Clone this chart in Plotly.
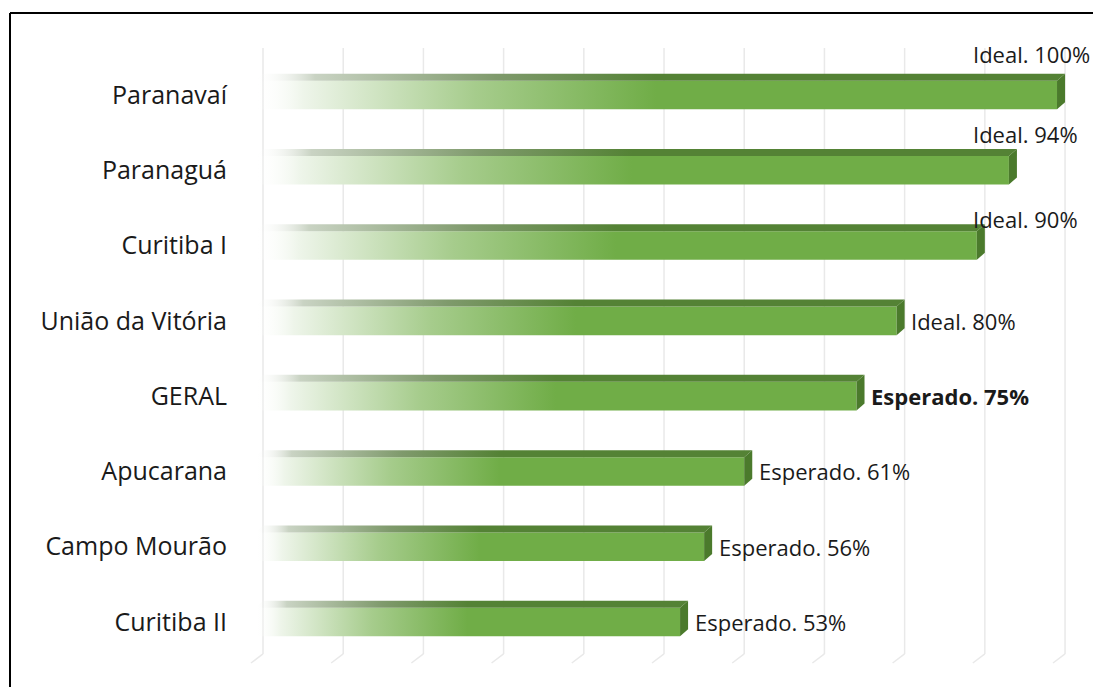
import plotly.graph_objects as go

# ---------------- data ----------------
categories = ["Paranavaí", "Paranaguá", "Curitiba I", "União da Vitória",
              "GERAL", "Apucarana", "Campo Mourão", "Curitiba II"]
values = [100, 94, 90, 80, 75, 61, 56, 53]
label_kinds = ["Ideal", "Ideal", "Ideal", "Ideal",
               "Esperado", "Esperado", "Esperado", "Esperado"]
grid_ticks = [0, 10, 20, 30, 40, 50, 60, 70, 80, 90, 100]

# ---------------- style ----------------
FONT = "Open Sans"
GREEN = "#70AD47"
TOP_GREEN = "#548235"
SIDE_GREEN = "#4B7A2C"
H = 0.19      # half height of front face (y units)
DX = 1.0      # depth offset in x (data units)
DY = 0.093    # depth offset in y
# label placement for the first three (placed above the bar end)
above_offsets = [0.538, 0.478, 0.359]
above_x = 88.3

n = len(categories)
ypos = [n - 1 - i for i in range(n)]

fig = go.Figure()

for v, c in zip(values, ypos):
    x0 = -DX
    x1 = v - DX
    # front face with gradient
    fig.add_trace(go.Scatter(
        x=[x0, x1, x1, x0, x0],
        y=[c - H, c - H, c + H, c + H, c - H],
        mode="lines", line=dict(width=0), fill="toself",
        fillgradient=dict(type="horizontal", start=x0, stop=x0 + 0.5 * v,
                          colorscale=[[0, "rgba(255,255,255,0)"],
                                      [0.12, "#eef5ea"],
                                      [0.55, "#a6cc8c"],
                                      [1, GREEN]]),
        hoverinfo="skip", showlegend=False))
    # top face
    fig.add_trace(go.Scatter(
        x=[x0, x1, v, 0, x0],
        y=[c + H, c + H, c + H + DY, c + H + DY, c + H],
        mode="lines", line=dict(width=0), fill="toself",
        fillgradient=dict(type="horizontal", start=x0, stop=x0 + 0.5 * v,
                          colorscale=[[0, "rgba(255,255,255,0)"],
                                      [0.15, "#c9d3c3"],
                                      [0.6, "#7f9a6c"],
                                      [1, TOP_GREEN]]),
        hoverinfo="skip", showlegend=False))
    # side face
    fig.add_trace(go.Scatter(
        x=[x1, v, v, x1, x1],
        y=[c - H, c - H + DY, c + H + DY, c + H, c - H],
        mode="lines", line=dict(width=0), fill="toself",
        fillcolor=SIDE_GREEN,
        hoverinfo="skip", showlegend=False))

# grid lines (vertical with floor diagonal)
Y_TOP = 7.624
Y_BOT = -0.424
Y_FLOOR = -0.544
shapes = []
for t in grid_ticks:
    shapes.append(dict(type="line", xref="x", yref="y", x0=t, x1=t,
                       y0=Y_BOT, y1=Y_TOP, layer="below",
                       line=dict(color="#E9E9E9", width=1.5)))
    shapes.append(dict(type="line", xref="x", yref="y", x0=t, x1=t - 1.5,
                       y0=Y_BOT, y1=Y_FLOOR, layer="below",
                       line=dict(color="#E9E9E9", width=1.5)))

# outer border (left and top); figure pixel coords (page offset 8px)
PL, PW, PB, PH = 232, 841, 662, 630
def px2paper_x(px):
    return (px - PL) / PW
def px2paper_y(py):
    return (PB - py) / PH
shapes.append(dict(type="line", xref="paper", yref="paper",
                   x0=px2paper_x(2), x1=px2paper_x(2),
                   y0=px2paper_y(5), y1=px2paper_y(700),
                   line=dict(color="black", width=2)))
shapes.append(dict(type="line", xref="paper", yref="paper",
                   x0=px2paper_x(2), x1=px2paper_x(1110),
                   y0=px2paper_y(5), y1=px2paper_y(5),
                   line=dict(color="black", width=2)))

# value labels
annotations = []
for i, (v, c, k) in enumerate(zip(values, ypos, label_kinds)):
    txt = f"{k}. {v}%"
    if categories[i] == "GERAL":
        txt = f"<b>{txt}</b>"
    if i < len(above_offsets):
        ax, ay = above_x, c + above_offsets[i]
    else:
        ax, ay = v + 0.6, c
    annotations.append(dict(x=ax, y=ay, xref="x", yref="y", text=txt,
                            showarrow=False, xanchor="left", yanchor="middle",
                            font=dict(family=FONT, size=22, color="#1a1a1a")))

fig.update_layout(
    width=1093, height=679,
    margin=dict(l=232, r=20, t=32, b=17),
    paper_bgcolor="white", plot_bgcolor="white",
    xaxis=dict(range=[-2.868, 101.99], showgrid=False, zeroline=False,
               showticklabels=False, ticks="", showline=False, fixedrange=True),
    yaxis=dict(range=[-0.637, 7.730], showgrid=False, zeroline=False,
               tickvals=ypos, ticktext=categories, ticks="",
               ticklabelstandoff=12, showline=False,
               tickfont=dict(family=FONT, size=25, color="#1a1a1a"),
               fixedrange=True),
    shapes=shapes,
    annotations=annotations,
    showlegend=False,
)

fig.write_html("out.html")
